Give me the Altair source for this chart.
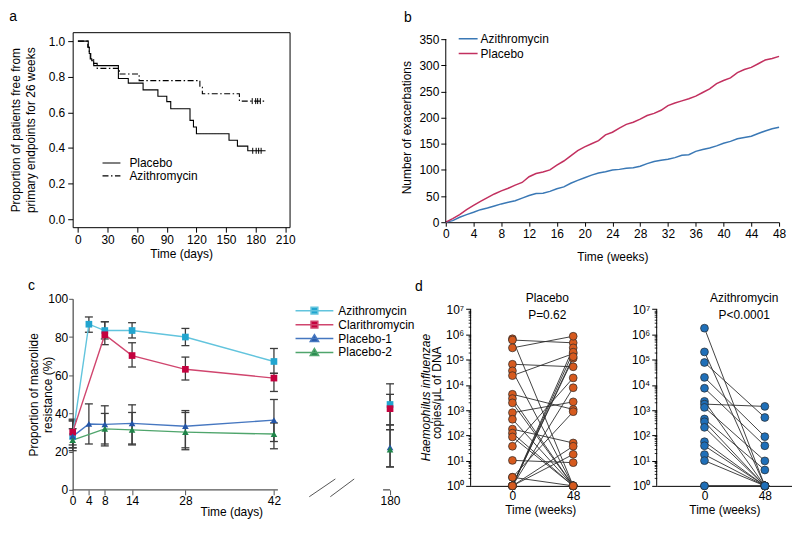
import altair as alt
import pandas as pd
import numpy as np

FONT = "Liberation Sans"

# ---------------- Panel a : Kaplan-Meier ----------------
a_placebo_day = [0, 10.5, 11.5, 12.5, 14, 16, 41, 51, 66, 81, 90, 94, 113.5, 117, 120, 153, 161.5, 172, 190]
a_placebo_surv = [1.0, 0.965, 0.93, 0.90, 0.89, 0.862, 0.79, 0.764, 0.726, 0.69, 0.66, 0.62, 0.555, 0.518, 0.48, 0.443, 0.41, 0.384, 0.384]
a_azi_day = [0, 10, 11.5, 13, 16, 19.5, 42, 62, 123.5, 126, 163.5, 190.5]
a_azi_surv = [1.0, 0.965, 0.93, 0.895, 0.875, 0.847, 0.815, 0.778, 0.741, 0.704, 0.663, 0.663]
a_placebo_censor = [177, 180.5, 183, 185.5]
a_azi_censor = [176.5, 180, 182, 184.7]
a_groups = ["Placebo", "Azithromycin"]

# ---------------- Panel b : cumulative exacerbations ----------------
b_weeks = list(range(49))
b_azi = [0, 3, 9.5, 14.5, 19, 24, 27, 31, 35, 38, 41, 46, 51, 55, 55.5, 59, 64, 67.5, 74.5, 80, 85, 90, 94,
         96.5, 100, 101, 103, 104, 107, 112, 116, 118.5, 120.5, 123.5, 128, 129, 135.5, 139, 142, 146, 151,
         154.5, 159.5, 162, 164.5, 169.5, 174.5, 178.5, 181.5]
b_placebo = [0, 7, 14.5, 24, 32, 40, 47, 54, 60, 65, 71, 76, 87, 93, 96, 100, 109, 117, 127, 137, 144, 150,
             156, 167, 172, 180, 187, 191, 197, 204, 208, 214, 223, 228, 232, 236, 241, 248, 255, 265, 271,
             276, 286, 292, 296, 303, 310, 313, 317]
b_groups = ["Azithromycin", "Placebo"]
b_colors = ["#3A78B5", "#C2305F"]

# ---------------- Panel c : macrolide resistance ----------------
c_series = ["Azithromycin", "Clarithromycin", "Placebo-1", "Placebo-2"]
c_line_colors = ["#62C4DD", "#D0456E", "#4677C0", "#4FA56C"]
c_marker_colors = ["#22A5CF", "#C4023F", "#2455A6", "#1F8449"]
c_days = {
    "Azithromycin": [0, 4, 8, 14, 28, 42, 180],
    "Clarithromycin": [0, 8, 14, 28, 42, 180],
    "Placebo-1": [0, 4, 8, 14, 28, 42, 180],
    "Placebo-2": [0, 8, 14, 28, 42, 180],
}
c_vals = {
    "Azithromycin": [28, 86.7, 83.4, 83.4, 80.0, 67.2, 44.7],
    "Clarithromycin": [30.2, 81.2, 70.3, 63.1, 58.5, 42.5],
    "Placebo-1": [28, 34.5, 34.3, 34.8, 33.3, 36.5, 22.2],
    "Placebo-2": [26, 31.9, 31.4, 30.2, 29.2, 21.1],
}
c_lo = {
    "Azithromycin": [22, 82.5, 79, 79.5, 75.5, 61, 34],
    "Clarithromycin": [23.5, 76, 64.3, 57.5, 51.5, 31.5],
    "Placebo-1": [22, 24, 24, 24, 22, 25.3, 12],
    "Placebo-2": [20.5, 23, 23.5, 21, 21.5, 12],
}
c_hi = {
    "Azithromycin": [36, 90.5, 88, 87.5, 84.5, 74, 55.5],
    "Clarithromycin": [37, 88, 77, 69.5, 61, 50],
    "Placebo-1": [36.5, 45, 44, 44.5, 41.5, 47.3, 34],
    "Placebo-2": [32, 40, 40.5, 40.5, 35, 31.5],
}
c_tick_days = [0, 4, 8, 14, 28, 42, 180]
c_tick_pos = [0, 16.3, 32.3, 59.7, 113.3, 202.3, 319]

# ---------------- Panel d : H. influenzae load (log10 copies) ----------------
d_pl_w0 = [5.83, 5.78, 5.47, 4.82, 4.56, 4.37, 3.63, 3.46, 3.29, 2.90, 2.64, 2.25, 2.09, 1.94, 1.57, 1.01,
           0.34, 0.34, 0, 0, 0, 0, 0, 0, 0]
d_pl_w48 = [0, 5.67, 5.93, 4.72, 0, 5.24, 3.03, 0, 0, 3.33, 0, 1.70, 0, 0, 4.28, 0.92, 0, 2.94, 5.47, 5.06,
            5.30, 1.57, 1.25, 3.89, 5.12]
d_az_w0 = [6.25, 5.31, 4.89, 4.30, 3.87, 3.35, 3.24, 3.11, 2.65, 2.54, 2.32, 1.75, 1.59, 1.24, 1.00, 0, 0]
d_az_w48 = [0, 0, 2.71, 1.95, 1.59, 0, 3.15, 0.99, 0.63, 0, 0, 0, 0, 0, 0, 0, 0]
d_weeks = [0, 48]

letter_style = dict(anchor="start", frame="bounds", fontSize=14, fontWeight="normal", font=FONT, color="black")


def letter(txt, x, y):
    return alt.Chart(pd.DataFrame({"t": [txt]})).mark_text(
        font=FONT, fontSize=14, color="black", align="center", baseline="middle").encode(
        text="t:N", x=alt.value(x), y=alt.value(y))


def label_text(txt, x, y, size=12):
    return alt.Chart(pd.DataFrame({"t": [txt]})).mark_text(
        font=FONT, fontSize=size, color="black", align="center", baseline="middle").encode(
        text="t:N", x=alt.value(x), y=alt.value(y))


# =============== Panel a ===============
km_df = pd.concat([
    pd.DataFrame({"day": a_placebo_day, "surv": a_placebo_surv, "arm_a": "Placebo"}),
    pd.DataFrame({"day": a_azi_day, "surv": a_azi_surv, "arm_a": "Azithromycin"}),
])
cens_df = pd.concat([
    pd.DataFrame({"day": a_placebo_censor, "surv": a_placebo_surv[-1], "arm_a": "Placebo"}),
    pd.DataFrame({"day": a_azi_censor, "surv": a_azi_surv[-1], "arm_a": "Azithromycin"}),
])
xa = alt.X("day:Q", scale=alt.Scale(domain=[-5.3, 214.3], nice=False, zero=False, padding=0),
           axis=alt.Axis(values=list(range(0, 211, 30)), title="Time (days)", domain=False,
                         tickSize=5, labelPadding=2, titlePadding=3))
ya = alt.Y("surv:Q", scale=alt.Scale(domain=[-0.045, 1.05], nice=False, zero=False, padding=0),
           axis=alt.Axis(values=[0, 0.2, 0.4, 0.6, 0.8, 1.0], format=".1f", domain=False, tickSize=5,
                         labelPadding=3, titlePadding=11, titleLineHeight=15,
                         title=["Proportion of patients free from", "primary endpoints for 26 weeks"]))
km_lines = alt.Chart(km_df).mark_line(interpolate="step-after", color="black", strokeWidth=1.1).encode(
    x=xa, y=ya,
    strokeDash=alt.StrokeDash("arm_a:N",
                              scale=alt.Scale(domain=a_groups, range=[[1, 0], [6, 2.5, 1.5, 2.5]]),
                              legend=alt.Legend(title=None, orient="none", legendX=29, legendY=126,
                                                symbolType="stroke", symbolSize=324, symbolStrokeWidth=1.2,
                                                labelOffset=8, clipHeight=11, rowPadding=0)),
)
km_cens = alt.Chart(cens_df).mark_rule(color="black", strokeWidth=1, yOffset=-3, y2Offset=3).encode(
    x=xa, y=ya, y2="surv:Q")
panel_a = alt.layer(km_lines, km_cens).properties(
    width=218, height=196, view=alt.ViewBackground(stroke="black", strokeWidth=1),
    title=alt.TitleParams("a", offset=8, **letter_style))

# =============== Panel b ===============
b_df = pd.concat([
    pd.DataFrame({"week": b_weeks, "count": b_azi, "arm_b": "Azithromycin"}),
    pd.DataFrame({"week": b_weeks, "count": b_placebo, "arm_b": "Placebo"}),
])
xb = alt.X("week:Q", scale=alt.Scale(domain=[0, 48], nice=False),
           axis=alt.Axis(values=list(range(0, 49, 4)), title="Time (weeks)", tickSize=4,
                         labelPadding=2, titlePadding=12))
yb = alt.Y("count:Q", scale=alt.Scale(domain=[0, 363.3], nice=False),
           axis=alt.Axis(values=list(range(0, 351, 50)), title="Number of exacerbations", domain=False,
                         tickSize=5, labelPadding=2, titlePadding=5))
b_lines = alt.Chart(b_df).mark_line(strokeWidth=1.5).encode(
    x=xb, y=yb,
    color=alt.Color("arm_b:N", scale=alt.Scale(domain=b_groups, range=b_colors),
                    legend=alt.Legend(title=None, orient="none", legendX=12, legendY=-1,
                                      symbolType="stroke", symbolSize=361, symbolStrokeWidth=1.5,
                                      labelOffset=2, clipHeight=15, rowPadding=0)),
)
b_axis = alt.Chart(pd.DataFrame({"week": [0], "count": [0], "count2": [350]})).mark_rule(
    color="black").encode(x=xb, y=yb, y2="count2:Q")
panel_b = alt.layer(b_lines, b_axis, letter("b", -38, -14)).properties(width=335, height=191)

# =============== Panel c ===============
rows = []
for s, mk in zip(c_series, ["square", "square", "triangle-up", "triangle-up"]):
    for d, v, lo, hi in zip(c_days[s], c_vals[s], c_lo[s], c_hi[s]):
        rows.append({"series": s, "day": d, "val": v, "lo": lo, "hi": hi, "marker": mk})
c_df = pd.DataFrame(rows)
caps_df = pd.concat([c_df.assign(cap=c_df["lo"]), c_df.assign(cap=c_df["hi"])])

xscale_c = alt.Scale(domain=c_tick_days, range=c_tick_pos, nice=False, zero=False, padding=0)
yscale_c = alt.Scale(domain=[0, 100], nice=False, padding=0)
xaxis_c = alt.Axis(values=c_tick_days, title="Time (days)", domain=False, tickSize=5, tickColor="#555",
                   labelPadding=1, titlePadding=0)
yaxis_c = alt.Axis(values=list(range(0, 101, 20)), title=["Proportion of macrolide", "resistance (%)"],
                   domainColor="#555", domainWidth=1.3, tickColor="#555", tickSize=4, labelPadding=1,
                   titlePadding=-7, titleLineHeight=14)
xc = alt.X("day:Q", scale=xscale_c, axis=xaxis_c)
yc = alt.Y("val:Q", scale=yscale_c, axis=yaxis_c)

sq = "M-1,0H1M-0.18,-0.18H0.18V0.18H-0.18Z"
tri = "M-1,0H1M0,-0.21L0.22,0.16H-0.22Z"
leg_c = alt.Legend(title=None, orient="none", legendX=223, legendY=5, symbolSize=1444,
                   symbolStrokeWidth=1.5, clipHeight=13.9, rowPadding=0, labelOffset=4)
fill_c = alt.Fill("series:N", scale=alt.Scale(domain=c_series, range=c_marker_colors), legend=leg_c)
stroke_c = alt.Stroke("series:N", scale=alt.Scale(domain=c_series, range=c_line_colors), legend=leg_c)

axis_seg = pd.DataFrame({"day": [0, 171.7], "day2": [46.7, 180], "val": [0, 0]})
c_axisline = alt.Chart(axis_seg).mark_rule(color="#555", strokeWidth=1.3).encode(x=xc, x2="day2:Q", y=yc)
break_df = pd.DataFrame({"day": [84, 109], "day2": [115, 137.4], "val": [-3.6, -3.6], "val2": [5.7, 5.7]})
c_break = alt.Chart(break_df).mark_rule(color="#555", strokeWidth=1).encode(x=xc, x2="day2:Q", y=yc, y2="val2:Q")
c_err = alt.Chart(c_df).mark_rule(color="#3c3c3c", strokeWidth=1.3).encode(
    x=xc, y=alt.Y("lo:Q", scale=yscale_c, axis=yaxis_c), y2="hi:Q")
c_caps = alt.Chart(caps_df).mark_rule(color="#3c3c3c", strokeWidth=1.3, xOffset=-4, x2Offset=4).encode(
    x=xc, x2="day:Q", y=alt.Y("cap:Q", scale=yscale_c, axis=yaxis_c))
c_lines = alt.Chart(c_df).transform_filter("datum.day <= 42").mark_line(strokeWidth=1.4).encode(
    x=xc, y=yc, stroke=stroke_c, detail="series:N")
c_sq = alt.Chart(c_df).transform_filter("datum.marker == 'square'").mark_point(
    filled=True, shape="square", size=45, opacity=1).encode(x=xc, y=yc, fill=fill_c)
c_tri = alt.Chart(c_df).transform_filter("datum.marker == 'triangle-up'").mark_point(
    filled=True, shape="triangle-up", size=45, opacity=1).encode(x=xc, y=yc, fill=fill_c)
c_leg = alt.Chart(c_df).transform_filter("datum.day < -1000").mark_point(filled=True, opacity=1).encode(
    x=xc, y=yc, fill=fill_c, stroke=stroke_c,
    shape=alt.Shape("series:N", scale=alt.Scale(domain=c_series, range=[sq, sq, tri, tri]), legend=leg_c))
panel_c = alt.layer(c_axisline, c_break, c_err, c_caps, c_lines, c_sq, c_tri, c_leg).properties(
    width=319, height=192, title=alt.TitleParams("c", offset=0, **letter_style))

# =============== Panel d ===============
def d_frame(w0, w48):
    r = []
    for i, (a, b) in enumerate(zip(w0, w48)):
        r.append({"subject": i, "week": d_weeks[0], "exp": a})
        r.append({"subject": i, "week": d_weeks[1], "exp": b})
    return pd.DataFrame(r)

sup = "['\u2070','\u00b9','\u00b2','\u00b3','\u2074','\u2075','\u2076','\u2077']"
yscale_d = alt.Scale(domain=[0, 7.414], nice=False, zero=False)
minor_vals = [n + float(np.log10(k)) for n in range(7) for k in range(2, 10)]

def d_panel(df, fill, title, xdom, width, title_x, ytitle, title_opacity, title_pad, extra_text):
    xd = alt.X("week:Q", scale=alt.Scale(domain=xdom, nice=False, zero=False),
               axis=alt.Axis(values=d_weeks, title="Time (weeks)", ticks=False, labelPadding=5, titlePadding=3))
    yaxis = alt.Axis(values=list(range(8)), labelExpr="'10' + " + sup + "[datum.value]", domain=False,
                     tickSize=5, labelPadding=2, title=ytitle, titleOpacity=title_opacity,
                     titlePadding=title_pad)
    yd = alt.Y("exp:Q", scale=yscale_d, axis=yaxis)
    axis_line = alt.Chart(pd.DataFrame({"week": [0], "exp": [0], "exp2": [7]})).mark_rule(
        color="black").encode(x=alt.value(0), y=yd, y2="exp2:Q")
    lines = alt.Chart(df).mark_line(color="#2e2e2e", strokeWidth=0.9).encode(x=xd, y=yd, detail="subject:N")
    pts = alt.Chart(df).mark_point(filled=True, fill=fill, stroke="#2a2a2a", strokeWidth=0.7, size=62,
                                   opacity=1).encode(x=xd, y=yd)
    layers = [axis_line, lines, pts, label_text(title[0], title_x, -1), label_text(title[1], title_x, 16)]
    if extra_text:
        t1 = alt.Chart(pd.DataFrame({"week": [0], "exp": [3.5]})).mark_text(
            text="Haemophilus influenzae", angle=270, fontStyle="italic", font=FONT, fontSize=12,
            color="black", baseline="middle", align="center").encode(x=alt.value(-45), y=yd)
        layers += [t1, letter("d", -52, -12)]
    inner = alt.layer(*layers)
    minor = alt.Chart(pd.DataFrame({"exp": [0]})).mark_point(opacity=0).encode(
        x=alt.value(0),
        y=alt.Y("exp:Q", scale=yscale_d,
                axis=alt.Axis(orient="left", values=minor_vals, labels=False, domain=False, tickSize=2.5,
                              title=None, tickWidth=0.8)))
    return alt.layer(inner, minor).resolve_axis(y="independent").properties(width=width, height=188)

panel_d1 = d_panel(d_frame(d_pl_w0, d_pl_w48), "#D65A1E", ["Placebo", "P=0.62"], [-33, 77], 140, 77,
                   "copies/\u03bcL of DNA", 1, 2, True)
panel_d2 = d_panel(d_frame(d_az_w0, d_az_w48), "#1F6FB8", ["Azithromycin", "P<0.0001"], [-38, 69.6], 136, 88,
                   "copies/\u03bcL of DNA", 0, 8, False)

indep = dict(color="independent", fill="independent", stroke="independent", shape="independent",
             strokeDash="independent")
row1 = alt.hconcat(panel_a, panel_b, spacing=104).resolve_scale(**indep)
row2 = alt.hconcat(panel_c, panel_d1, panel_d2, spacing=0).resolve_scale(**indep)
chart = alt.vconcat(row1, row2, spacing=17).resolve_scale(**indep).properties(padding=0).configure_view(
    stroke=None).configure_axis(
    labelFont=FONT, titleFont=FONT, labelFontSize=12, titleFontSize=12, titleFontWeight="normal",
    labelColor="black", titleColor="black", domainColor="black", tickColor="black", grid=False,
    labelFlush=False
).configure_legend(labelFont=FONT, labelFontSize=12, labelColor="black").configure_title(font=FONT)

chart.save("out.html", embed_options={"renderer": "svg", "actions": False})
